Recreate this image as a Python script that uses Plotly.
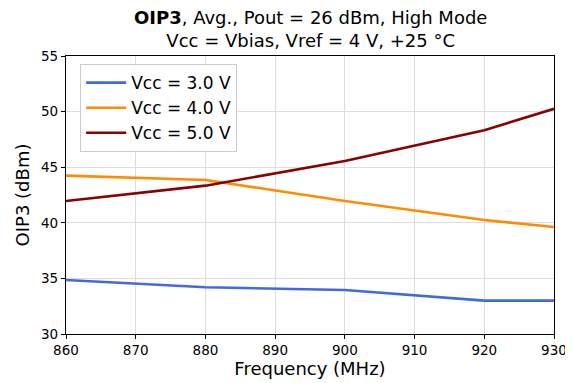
import plotly.graph_objects as go

freq = [860, 880, 900, 920, 930]
vcc3 = [34.86, 34.2, 33.96, 33.0, 33.0]
vcc4 = [44.24, 43.85, 41.96, 40.25, 39.62]
vcc5 = [41.96, 43.34, 45.56, 48.33, 50.25]
names = ["Vcc = 3.0 V", "Vcc = 4.0 V", "Vcc = 5.0 V"]
colors = ["#4169E1", "#FF8C00", "#8B0000"]
title_text = "<b>OIP3</b>, Avg., Pout = 26 dBm, High Mode<br>Vcc = Vbias, Vref = 4 V, +25 °C"

fig = go.Figure()
for ys, n, c in zip([vcc3, vcc4, vcc5], names, colors):
    fig.add_trace(go.Scatter(x=freq, y=ys, mode="lines", name=n,
                             line=dict(color=c, width=2.6)))

font = "DejaVu Sans, sans-serif"
fig.update_layout(
    width=565, height=375,
    margin=dict(l=58, r=19, t=48, b=49, autoexpand=False),
    paper_bgcolor="white", plot_bgcolor="white",
    font=dict(family=font, color="black"),
    legend=dict(x=0.029, y=0.971, xanchor="left", yanchor="top",
                bgcolor="rgba(255,255,255,0.9)", bordercolor="#cccccc", borderwidth=1,
                font=dict(size=17, family=font), tracegroupgap=0, itemwidth=40),
    showlegend=True,
)
fig.add_annotation(text=title_text, xref="paper", yref="paper", x=0.5, y=1,
                   xanchor="center", yanchor="bottom", yshift=3, showarrow=False,
                   font=dict(size=18, family=font, color="black"))
fig.update_xaxes(range=[860, 930], tickmode="array", tickvals=list(range(860, 931, 10)),
                 title=dict(text="Frequency (MHz)", font=dict(size=18, family=font), standoff=4),
                 tickfont=dict(size=13.5, family=font), showline=True, linecolor="black", linewidth=1.2,
                 mirror=True, ticks="outside", ticklen=4, tickcolor="black",
                 showgrid=True, gridcolor="#dddddd", gridwidth=1, zeroline=False)
fig.update_yaxes(range=[30, 55], tickmode="array", tickvals=list(range(30, 56, 5)),
                 title=dict(text="OIP3 (dBm)", font=dict(size=18, family=font), standoff=6),
                 tickfont=dict(size=13.5, family=font), showline=True, linecolor="black", linewidth=1.2,
                 mirror=True, ticks="outside", ticklen=4, tickcolor="black",
                 showgrid=True, gridcolor="#dddddd", gridwidth=1, zeroline=False)

fig.write_html("out.html")
